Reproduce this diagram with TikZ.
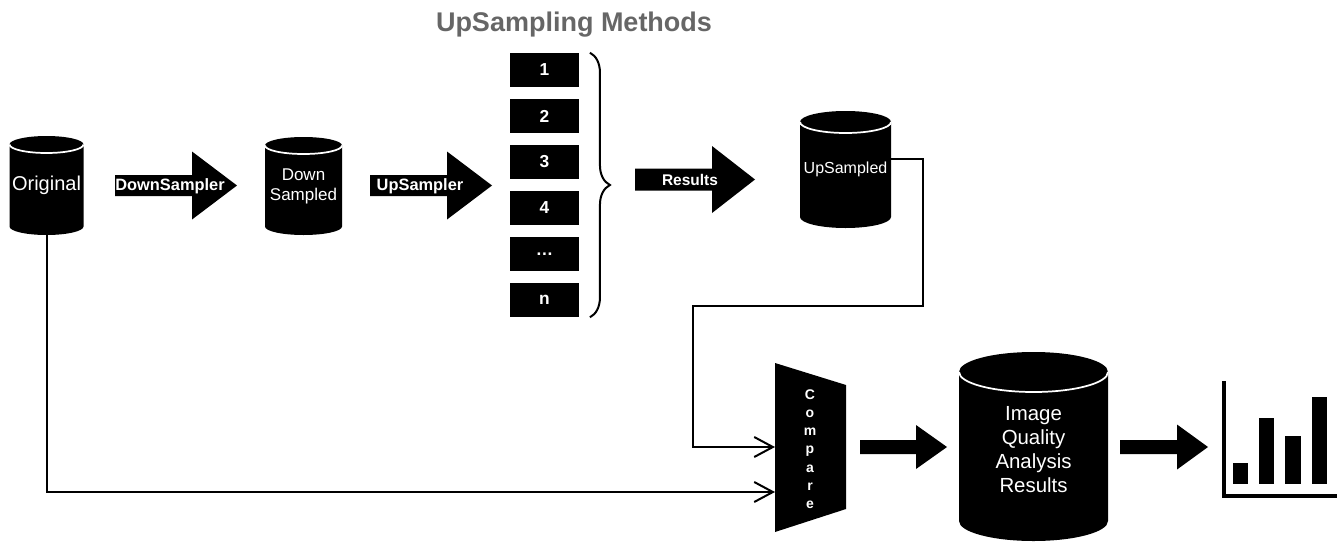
\documentclass[tikz,border=0pt]{standalone}
\usepackage{fontspec}
\setmainfont{Liberation Sans}
\usetikzlibrary{arrows.meta,decorations.pathreplacing,fit}
\definecolor{titlegray}{HTML}{666666}

\newcommand\fs[2]{\fontsize{#1}{#2}\selectfont}

% database cylinder: [label options]{name}{centre x}{top y}{bottom y}{half width}{cap radius}{label}
\newcommand\dbcylinder[8][]{%
  \fill (#3-#6,#4+#7) -- (#3-#6,#5-#7)
    arc[start angle=180,end angle=0,x radius=#6,y radius=#7]
    -- (#3+#6,#4+#7)
    arc[start angle=0,end angle=-180,x radius=#6,y radius=#7] -- cycle;
  \draw[white,line width=1.3pt] (#3-#6,#4+#7)
    arc[start angle=180,end angle=0,x radius=#6,y radius=#7];
  \coordinate (#2-nw) at (#3-#6,#4);
  \coordinate (#2-se) at (#3+#6,#5);
  \node[inner sep=0pt,fit=(#2-nw)(#2-se)] (#2) {};
  \node[cyltext,#1] (#2-label) at (#2.center) {#8};
}

% block arrow: {name}{tail x}{head base x}{tip x}{centre y}{shaft half height}{head half height}
\newcommand\blockarrow[7]{%
  \fill (#2,#5-#6) -- (#3,#5-#6) -- (#3,#5-#7) -- (#4,#5)
    -- (#3,#5+#7) -- (#3,#5+#6) -- (#2,#5+#6) -- cycle;
  \coordinate (#1) at ({(#2+#4)/2},#5);
}

\begin{document}
\begin{tikzpicture}[x=0.75pt,y=-0.75pt,
  cyltext/.style={inner sep=0pt,text=white,align=center},
  arrowtext/.style={inner sep=0pt,text=white,font=\bfseries\fs{12.3pt}{14pt}},
  method/.style={fill=black,text=white,inner sep=0pt,minimum width=51.75pt,
    minimum height=25.5pt,font=\bfseries\fs{13pt}{15pt}},
  conn/.style={line width=1.5pt,-{Straight Barb[length=14pt,width=15pt,line width=1.5pt]}},
  axis/.style={line width=3pt}]
\useasboundingbox (0,0) rectangle (1341,543);

% title over the list of methods
\node[font=\bfseries\fs{20.25pt}{24pt},text=titlegray] (title) at (574,25) {UpSampling Methods};

% data stores
\dbcylinder[font=\fs{15pt}{17pt}]{orig}{46.5}{136}{235}{37}{8.5}{Original}
\dbcylinder[font=\fs{12.75pt}{15pt}]{down}{303.5}{137}{235}{38.5}{8.5}{Down\\Sampled}
\dbcylinder[font=\fs{12pt}{14pt}]{ups}{845.5}{111}{228}{45.5}{11}{UpSampled}
\dbcylinder[font=\fs{15.3pt}{18pt},yshift=-2.2pt]{iq}{1033.5}{352}{541}{74.5}{20}{Image\\Quality\\Analysis\\Results}

% processing arrows
\blockarrow{a-down}{115}{192}{237}{185.5}{10.5}{34}
\blockarrow{a-up}{370}{447}{492}{185.5}{10.5}{34}
\blockarrow{a-res}{635}{712}{755}{179.5}{11}{33.5}
\blockarrow{a-cmp}{860}{916}{947}{447}{7}{22}
\blockarrow{a-iq}{1120}{1177}{1208}{447}{7}{22.5}
\node[arrowtext] (t-down) at (170,186) {DownSampler};
\node[arrowtext] (t-up) at (420,186) {UpSampler};
\node[arrowtext,font=\bfseries\fs{11.6pt}{14pt}] (t-res) at (690,180) {Results};

% upsampling methods
\node[method] (m1) at (544.5,70) {1};
\node[method] (m2) at (544.5,116) {2};
\node[method] (m3) at (544.5,162) {3};
\node[method] (m4) at (544.5,208) {4};
\node[method] (m5) at (544.5,254) {\dots};
\node[method] (m6) at (544.5,300) {n};
\draw[line width=1.5pt,decorate,decoration={brace,amplitude=15pt}]
  ([xshift=8pt]m1.north east) -- ([xshift=8pt]m6.south east);

% comparison stage
\coordinate (c1) at (775,363);
\coordinate (c2) at (846,385);
\coordinate (c3) at (846,509);
\coordinate (c4) at (775,532);
\fill (c1) -- (c2) -- (c3) -- (c4) -- cycle;
\node[text=white,align=center,inner sep=0pt,font=\bfseries\fs{10.5pt}{13.7pt}] (cmp) at (810,449)
  {C\\o\\m\\p\\a\\r\\e};

% feeds into the comparison
\coordinate (in-a) at (775,447);
\coordinate (in-b) at (775,492);
\coordinate (r1) at (923,306);
\coordinate (r2) at (693,306);
\draw[conn] ([yshift=7.9pt]ups.east) -| (r1) -- (r2) |- (in-a);
\draw[conn] (orig.south) |- (in-b);

% bar chart
\draw[axis] (1224,381) -- (1224,496) -- (1337,496);
\fill (1233,463) rectangle (1248,484);
\fill (1259,418) rectangle (1274,484);
\fill (1285,436) rectangle (1301,484);
\fill (1312,397) rectangle (1327,484);
\end{tikzpicture}
\end{document}
